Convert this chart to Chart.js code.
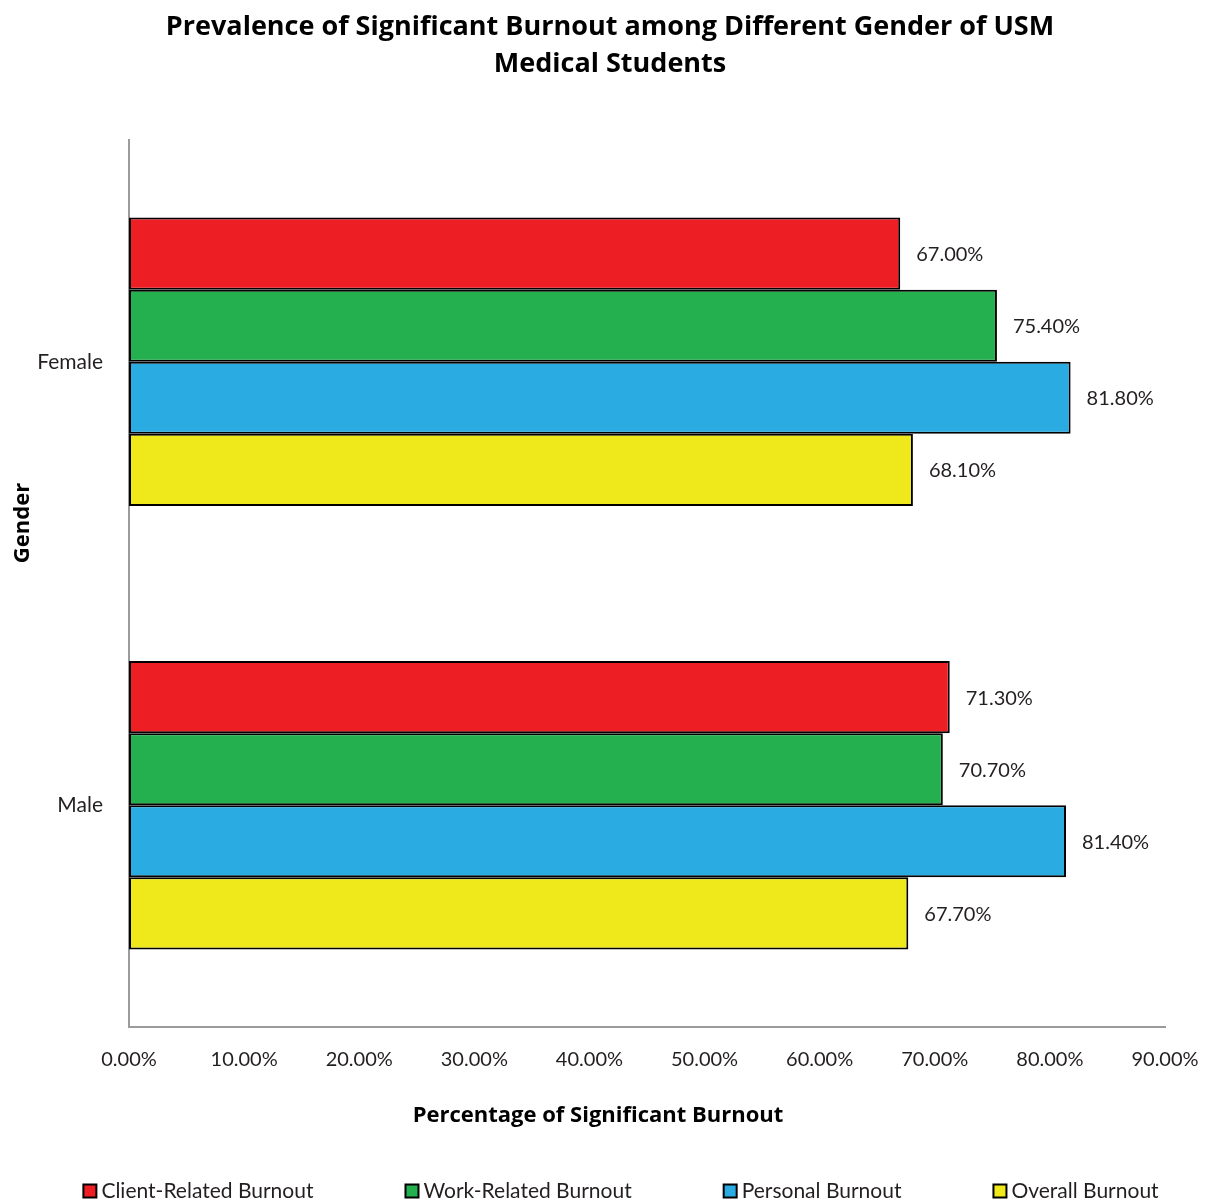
<!DOCTYPE html>
<html>
<head>
<meta charset="utf-8">
<script src="https://cdn.jsdelivr.net/npm/chart.js@4/dist/chart.umd.min.js"></script>
<style>
  html, body { margin: 0; padding: 0; background: #fff; overflow: hidden; }
  #wrap { width: 1207px; height: 1200px; position: relative; }
</style>
</head>
<body>
<div id="wrap"><canvas id="c" width="1207" height="1200"></canvas></div>
<script>
// Gender groups and burnout percentages per category
const genders = ['Female', 'Male'];
const seriesNames = ['Client-Related Burnout', 'Work-Related Burnout', 'Personal Burnout', 'Overall Burnout'];
const clientRelated = [67.0, 71.3];
const workRelated = [75.4, 70.7];
const personal = [81.8, 81.4];
const overall = [68.1, 67.7];
const xTicks = [0, 10, 20, 30, 40, 50, 60, 70, 80, 90];
const titleLines = ['Prevalence of Significant Burnout among Different Gender of USM', 'Medical Students'];

const colors = ['#ED1F24', '#24B04F', '#2AABE2', '#EFE81B'];
const FONT = 'Lato, "Open Sans", sans-serif';
const BOLD_FONT = '"Open Sans", Lato, sans-serif';

const seriesValues = [clientRelated, workRelated, personal, overall];

// Value labels drawn just past the end of each bar
const valueLabels = {
  id: 'valueLabels',
  afterDatasetsDraw(chart) {
    const ctx = chart.ctx;
    ctx.save();
    ctx.font = '20px ' + FONT;
    ctx.fillStyle = '#231f20';
    ctx.textAlign = 'left';
    ctx.textBaseline = 'middle';
    chart.data.datasets.forEach((ds, i) => {
      chart.getDatasetMeta(i).data.forEach((bar, j) => {
        ctx.fillText(ds.data[j].toFixed(2) + '%', bar.x + 16, bar.y + 1);
      });
    });
    ctx.restore();
  }
};

// Chart title, axis titles and the bottom legend row
const decorations = {
  id: 'decorations',
  afterDraw(chart) {
    const ctx = chart.ctx;
    ctx.save();
    ctx.fillStyle = '#000';
    ctx.textBaseline = 'middle';
    ctx.textAlign = 'center';
    ctx.font = 'bold 27px ' + BOLD_FONT;
    ctx.fillText(titleLines[0], 610, 27);
    ctx.fillText(titleLines[1], 610, 64);

    ctx.font = 'bold 22px ' + BOLD_FONT;
    ctx.fillText('Percentage of Significant Burnout', 598, 1116);

    ctx.translate(23, 523);
    ctx.rotate(-Math.PI / 2);
    ctx.fillText('Gender', 0, 0);
    ctx.restore();

    // legend
    ctx.save();
    ctx.font = '21px ' + FONT;
    ctx.textBaseline = 'middle';
    ctx.textAlign = 'left';
    const box = 13, gapText = 5, gapItem = 92;
    const items = chart.data.datasets.map(ds => ({
      label: ds.label, color: ds.backgroundColor,
      w: box + gapText + ctx.measureText(ds.label).width
    }));
    const total = items.reduce((s, it) => s + it.w, 0) + gapItem * (items.length - 1);
    let x = 621 - total / 2;
    const y = 1191;
    items.forEach(it => {
      ctx.fillStyle = it.color;
      ctx.fillRect(x, y - box / 2, box, box);
      ctx.strokeStyle = '#000';
      ctx.lineWidth = 2;
      ctx.strokeRect(x, y - box / 2, box, box);
      ctx.fillStyle = '#231f20';
      ctx.fillText(it.label, x + box + gapText, y);
      x += it.w + gapItem;
    });
    ctx.restore();
  }
};

new Chart(document.getElementById('c'), {
  type: 'bar',
  data: {
    labels: genders,
    datasets: seriesNames.map((name, i) => ({
      label: name,
      data: seriesValues[i],
      backgroundColor: colors[i],
      borderColor: '#000',
      borderWidth: 2,
      borderSkipped: false,
      categoryPercentage: 0.65,
      barPercentage: 1.0
    }))
  },
  options: {
    indexAxis: 'y',
    responsive: false,
    animation: false,
    devicePixelRatio: 1,
    layout: { padding: { left: 0, right: 42, top: 140, bottom: 0 } },
    plugins: {
      legend: { display: false },
      tooltip: { enabled: false },
      title: { display: false }
    },
    scales: {
      x: {
        min: 0, max: 90,
        afterBuildTicks(scale) { scale.ticks = xTicks.map(v => ({ value: v })); },
        afterFit(scale) { scale.height = 173; scale.paddingLeft = 0; scale.paddingRight = 0; },
        grid: { display: false, drawTicks: false },
        border: { display: true, color: '#9b9b9b', width: 2 },
        ticks: {
          padding: 21,
          color: '#231f20',
          font: { family: FONT, size: 20 },
          callback: v => v.toFixed(2) + '%'
        }
      },
      y: {
        afterFit(scale) { scale.width = 129; },
        grid: { display: false, drawTicks: false },
        border: { display: true, color: '#9b9b9b', width: 2 },
        ticks: {
          padding: 26,
          color: '#231f20',
          font: { family: FONT, size: 21 }
        }
      }
    }
  },
  plugins: [valueLabels, decorations]
});
</script>
</body>
</html>
